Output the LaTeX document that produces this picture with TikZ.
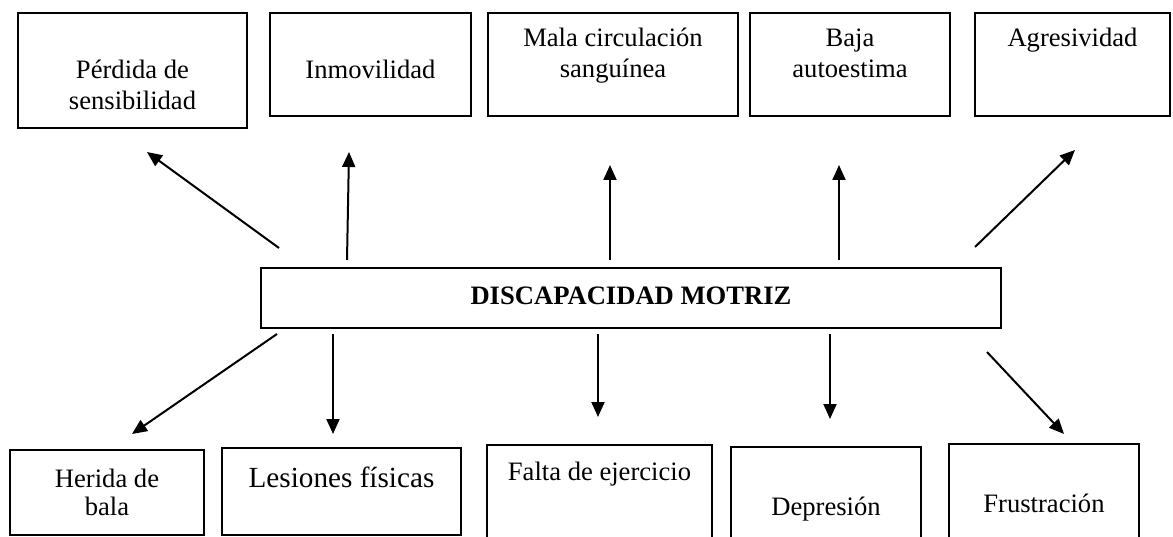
\documentclass[tikz,border=0pt]{standalone}
\usepackage{fontspec}
\setmainfont{Liberation Serif}
\usetikzlibrary{arrows.meta}

\tikzset{
  caja/.style={draw=black, line width=2pt, inner sep=0pt},
  flecha/.style={draw=black, line width=2pt, -{Triangle[length=15pt,width=13pt]}},
  txt/.style={font=\fontsize{26.6}{31}\selectfont, inner sep=0pt, anchor=base}
}

\begin{document}
\begin{tikzpicture}[x=1pt,y=-1pt]
        \useasboundingbox (0,0) rectangle (1173,537);
        \clip (0,0) rectangle (1173,537);
        % cajas de arriba
        \node[caja, minimum width=229pt, minimum height=115pt] (perdida) at (132.5,70.5) {};
        \node[caja, minimum width=201pt, minimum height=103pt] (inmov) at (370.5,64.5) {};
        \node[caja, minimum width=250pt, minimum height=103pt] (circ) at (613,64.5) {};
        \node[caja, minimum width=200pt, minimum height=103pt] (autoest) at (850,64.5) {};
        \node[caja, minimum width=195pt, minimum height=103pt] (agres) at (1072.5,64.5) {};
        \node[txt] (perdida1) at (132.5,79) {Pérdida de};
        \node[txt] (perdida2) at (132.5,110) {sensibilidad};
        \node[txt] (inmov1) at (370.5,79) {Inmovilidad};
        \node[txt] (circ1) at (613,47) {Mala circulación};
        \node[txt] (circ2) at (613,78) {sanguínea};
        \node[txt] (autoest1) at (850,47) {Baja};
        \node[txt] (autoest2) at (850,78) {autoestima};
        \node[txt] (agres1) at (1072.5,47) {Agresividad};
        % caja central
        \node[caja, minimum width=740pt, minimum height=60pt] (disc) at (631,298) {};
        \node[txt, font=\fontsize{26.6}{31}\selectfont\bfseries] (disc1) at (631,305) {DISCAPACIDAD MOTRIZ};
        % cajas de abajo
        \node[caja, minimum width=194pt, minimum height=85pt] (herida) at (107,492.5) {};
        \node[caja, minimum width=239pt, minimum height=87pt] (lesion) at (341.5,491.5) {};
        \node[caja, minimum width=225pt, minimum height=115pt] (falta) at (599.5,502.5) {};
        \node[caja, minimum width=190pt, minimum height=113pt] (depre) at (826,503.5) {};
        \node[caja, minimum width=190pt, minimum height=116pt] (frustr) at (1044,502) {};
        \node[txt] (herida1) at (107,487) {Herida de};
        \node[txt] (herida2) at (107,515) {bala};
        \node[txt, font=\fontsize{29.2}{34}\selectfont] (lesion1) at (341.5,487) {Lesiones físicas};
        \node[txt] (falta1) at (599.5,480) {Falta de ejercicio};
        \node[txt] (depre1) at (826,515) {Depresión};
        \node[txt] (frustr1) at (1044,512) {Frustración};
        % extremos de las flechas
        \coordinate (s1) at (279,248);  \coordinate (e1) at (147,152);
        \coordinate (s2) at (347,260);  \coordinate (e2) at (349,152);
        \coordinate (s3) at (610,260);  \coordinate (e3) at (610,165);
        \coordinate (s4) at (839,260);  \coordinate (e4) at (839,165);
        \coordinate (s5) at (975,247);  \coordinate (e5) at (1075,150);
        \coordinate (t1) at (277,334);  \coordinate (f1) at (132,434);
        \coordinate (t2) at (333,334);  \coordinate (f2) at (333,434);
        \coordinate (t3) at (598,334);  \coordinate (f3) at (598,417);
        \coordinate (t4) at (830,334);  \coordinate (f4) at (830,419);
        \coordinate (t5) at (987,352);  \coordinate (f5) at (1064,434);
        % flechas
        \draw[flecha] (s1) -- (e1);
        \draw[flecha] (s2) -- (e2);
        \draw[flecha] (s3) -- (e3);
        \draw[flecha] (s4) -- (e4);
        \draw[flecha] (s5) -- (e5);
        \draw[flecha] (t1) -- (f1);
        \draw[flecha] (t2) -- (f2);
        \draw[flecha] (t3) -- (f3);
        \draw[flecha] (t4) -- (f4);
        \draw[flecha] (t5) -- (f5);
\end{tikzpicture}
\end{document}
